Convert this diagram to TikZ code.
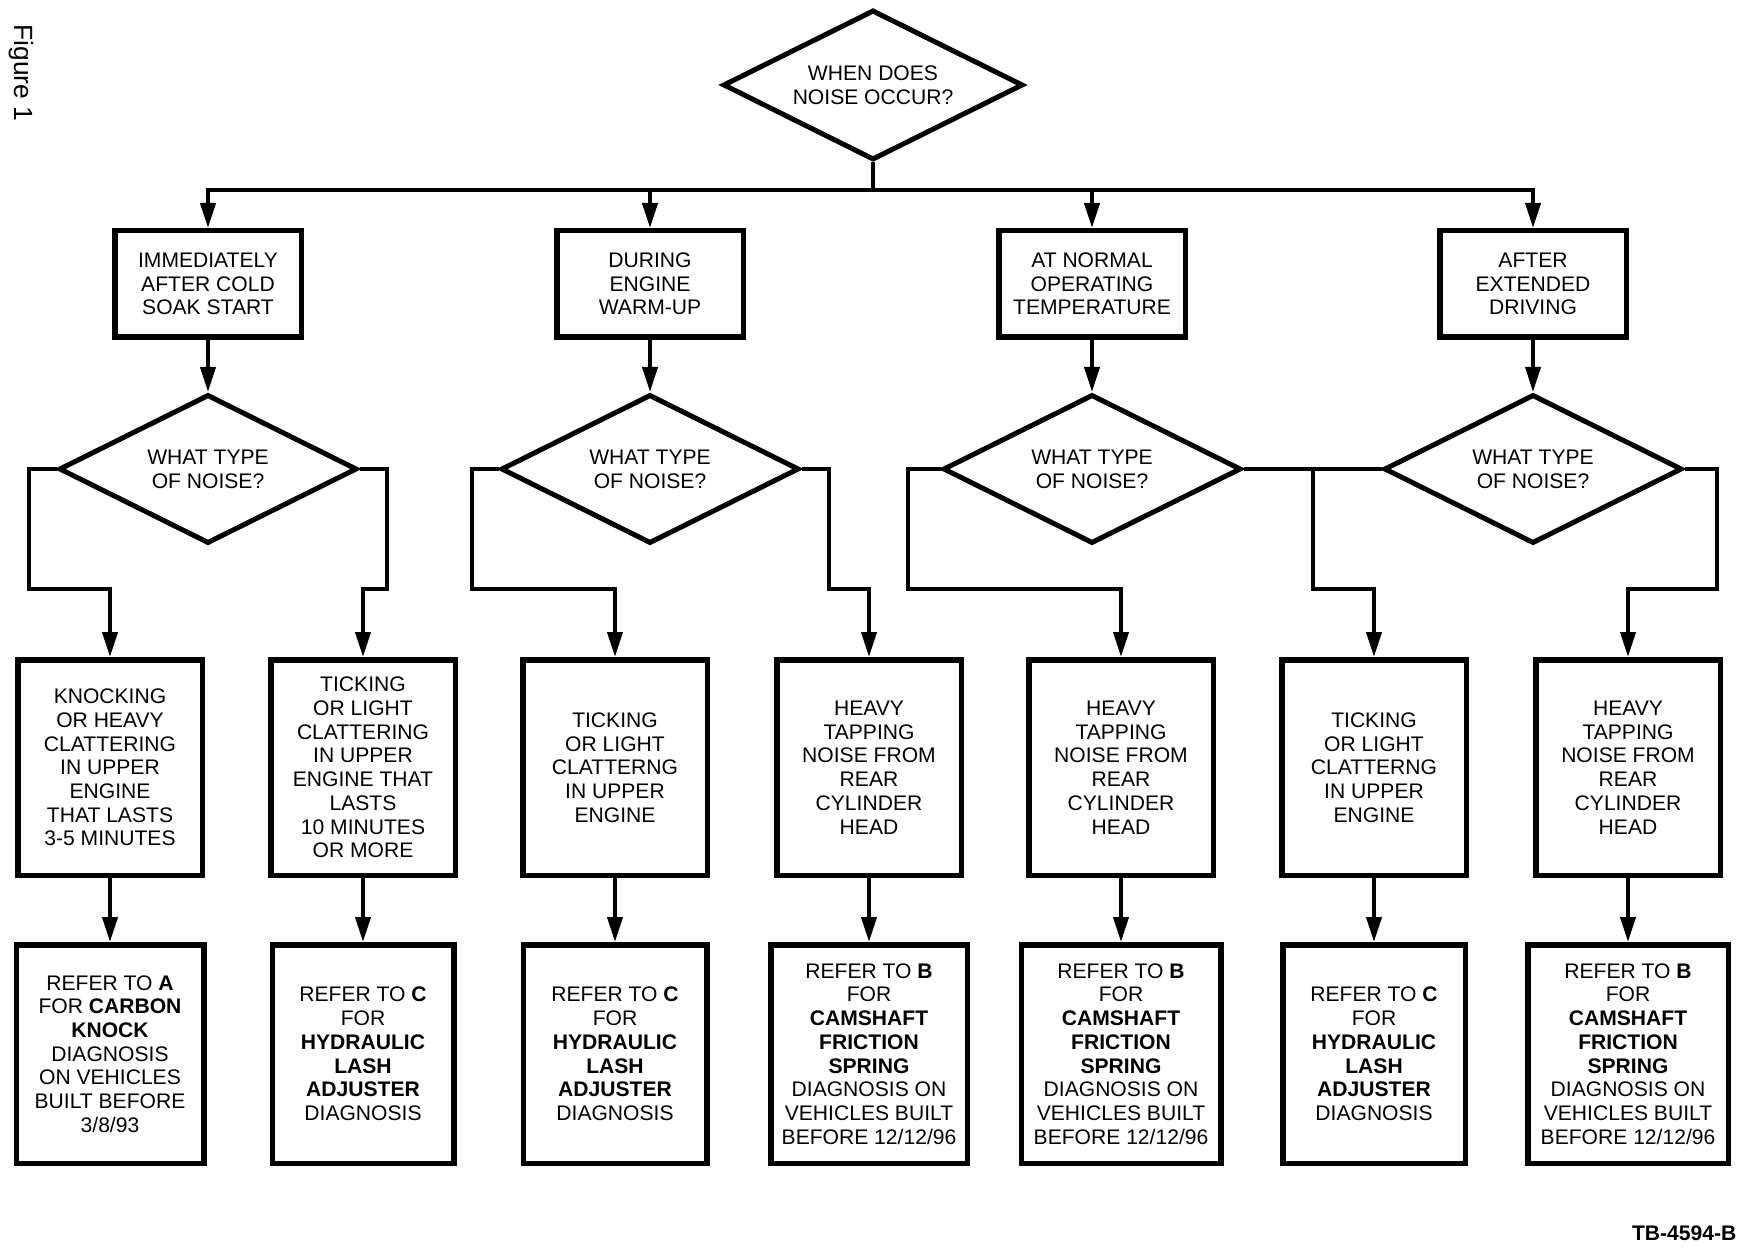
\documentclass[tikz,border=0pt]{standalone}
\usepackage{fontspec}
\setmainfont{Liberation Sans}
\usepackage{tikz}
\usetikzlibrary{shapes.geometric}
\usetikzlibrary{arrows.meta}
\tikzstyle{every node}=[font=\fontsize{6}{6.75}\selectfont]
\tikzstyle{box}=[draw, line width=0.55mm, align=center, inner sep=0pt]
\tikzstyle{ask}=[draw, diamond, aspect=2, line width=0.5mm, align=center, inner sep=0pt, minimum width=2.98cm, minimum height=1.49cm]
\tikzstyle{link}=[line width=0.4mm]
\tikzstyle{arr}=[link, -{Triangle[length=2.5mm,width=1.5mm]}]
\tikzstyle{when}=[box, minimum width=1.865cm, minimum height=1.065cm]
\tikzstyle{noise}=[box, minimum width=1.845cm, minimum height=2.155cm]
\tikzstyle{refer}=[box, minimum height=2.185cm]

\begin{document}
\begin{tikzpicture}
                \useasboundingbox (0,0) rectangle (17.42,-12.48);
                \coordinate (row) at (0,-5.89);

                \node[rotate=-90, font=\fontsize{7.5}{9}\selectfont] (fig) at (0.21,-0.73) {Figure 1};
                \node[font=\fontsize{6}{7}\selectfont\bfseries, anchor=east, inner sep=0pt] (tag) at (17.37,-12.33) {TB-4594-B};

                \node[ask, minimum width=3.0cm, minimum height=1.5cm] (q0) at (8.73,-0.85) {WHEN DOES\\NOISE OCCUR?};

                \node[when] (a1) at (2.08,-2.84) {IMMEDIATELY\\AFTER COLD\\SOAK START};
                \node[when] (a2) at (6.50,-2.84) {DURING\\ENGINE\\WARM-UP};
                \node[when] (a3) at (10.92,-2.84) {AT NORMAL\\OPERATING\\TEMPERATURE};
                \node[when] (a4) at (15.33,-2.84) {AFTER\\EXTENDED\\DRIVING};

                \node[ask] (q1) at (2.08,-4.69) {WHAT TYPE\\OF NOISE?};
                \node[ask] (q2) at (6.50,-4.69) {WHAT TYPE\\OF NOISE?};
                \node[ask] (q3) at (10.92,-4.69) {WHAT TYPE\\OF NOISE?};
                \node[ask] (q4) at (15.33,-4.69) {WHAT TYPE\\OF NOISE?};

                \node[noise] (b1) at (1.10,-7.675) {KNOCKING\\OR HEAVY\\CLATTERING\\IN UPPER\\ENGINE\\THAT LASTS\\3-5 MINUTES};
                \node[noise] (b2) at (3.63,-7.675) {TICKING\\OR LIGHT\\CLATTERING\\IN UPPER\\ENGINE THAT\\LASTS\\10 MINUTES\\OR MORE};
                \node[noise] (b3) at (6.15,-7.675) {TICKING\\OR LIGHT\\CLATTERNG\\IN UPPER\\ENGINE};
                \node[noise] (b4) at (8.69,-7.675) {HEAVY\\TAPPING\\NOISE FROM\\REAR\\CYLINDER\\HEAD};
                \node[noise] (b5) at (11.21,-7.675) {HEAVY\\TAPPING\\NOISE FROM\\REAR\\CYLINDER\\HEAD};
                \node[noise] (b6) at (13.74,-7.675) {TICKING\\OR LIGHT\\CLATTERNG\\IN UPPER\\ENGINE};
                \node[noise] (b7) at (16.28,-7.675) {HEAVY\\TAPPING\\NOISE FROM\\REAR\\CYLINDER\\HEAD};

                \node[refer, minimum width=1.875cm] (c1) at (1.10,-10.54) {REFER TO \textbf{A}\\FOR \textbf{CARBON}\\\textbf{KNOCK}\\DIAGNOSIS\\ON VEHICLES\\BUILT BEFORE\\3/8/93};
                \node[refer, minimum width=1.815cm] (c2) at (3.63,-10.54) {REFER TO \textbf{C}\\FOR\\\textbf{HYDRAULIC}\\\textbf{LASH}\\\textbf{ADJUSTER}\\DIAGNOSIS};
                \node[refer, minimum width=1.835cm] (c3) at (6.15,-10.54) {REFER TO \textbf{C}\\FOR\\\textbf{HYDRAULIC}\\\textbf{LASH}\\\textbf{ADJUSTER}\\DIAGNOSIS};
                \node[refer, minimum width=1.965cm] (c4) at (8.69,-10.54) {REFER TO \textbf{B}\\FOR\\\textbf{CAMSHAFT}\\\textbf{FRICTION}\\\textbf{SPRING}\\DIAGNOSIS ON\\VEHICLES BUILT\\BEFORE 12/12/96};
                \node[refer, minimum width=1.995cm] (c5) at (11.21,-10.54) {REFER TO \textbf{B}\\FOR\\\textbf{CAMSHAFT}\\\textbf{FRICTION}\\\textbf{SPRING}\\DIAGNOSIS ON\\VEHICLES BUILT\\BEFORE 12/12/96};
                \node[refer, minimum width=1.825cm] (c6) at (13.74,-10.54) {REFER TO \textbf{C}\\FOR\\\textbf{HYDRAULIC}\\\textbf{LASH}\\\textbf{ADJUSTER}\\DIAGNOSIS};
                \node[refer, minimum width=2.005cm] (c7) at (16.28,-10.54) {REFER TO \textbf{B}\\FOR\\\textbf{CAMSHAFT}\\\textbf{FRICTION}\\\textbf{SPRING}\\DIAGNOSIS ON\\VEHICLES BUILT\\BEFORE 12/12/96};

                % top question to the four times
                \draw[link] (q0.south) -- ++(0,-0.28) coordinate (bus);
                \foreach \i in {1,...,4}
                    \draw[arr] (bus) -| (a\i.north);
                \foreach \i in {1,...,4}
                    \draw[arr] (a\i) -- (q\i);

                % type of noise branches
                \draw[arr] (q1.west) -- ++(-0.28,0) |- (b1.north |- row) -- (b1.north);
                \draw[arr] (q1.east) -- ++(0.27,0) |- (b2.north |- row) -- (b2.north);
                \draw[arr] (q2.west) -- ++(-0.27,0) |- (b3.north |- row) -- (b3.north);
                \draw[arr] (q2.east) -- ++(0.27,0) |- (b4.north |- row) -- (b4.north);
                \draw[arr] (q3.west) -- ++(-0.33,0) |- (b5.north |- row) -- (b5.north);
                \draw[link] (q3.east) -- coordinate[midway] (fork) (q4.west);
                \draw[arr] (fork) |- (b6.north |- row) -- (b6.north);
                \draw[arr] (q4.east) -- ++(0.32,0) |- (b7.north |- row) -- (b7.north);

                \foreach \i in {1,...,7}
                    \draw[arr] (b\i) -- (c\i);
            \end{tikzpicture}
\end{document}
